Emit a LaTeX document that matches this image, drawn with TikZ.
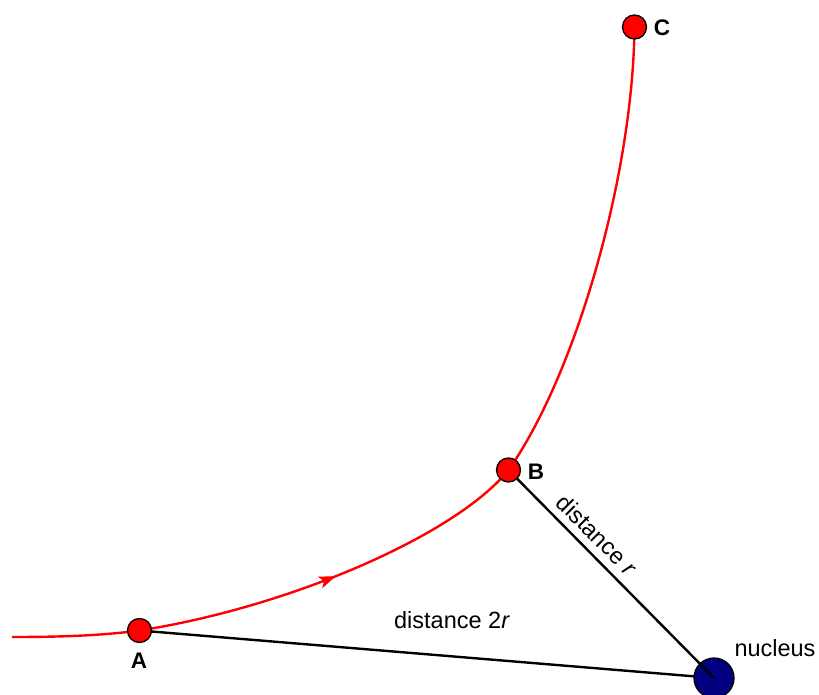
\documentclass[tikz,border=0pt]{standalone}
\usepackage{fontspec}
\setmainfont{Liberation Sans}
\usetikzlibrary{arrows.meta,decorations.markings,backgrounds}
\definecolor{navyblue}{HTML}{000080}
\tikzset{
  pt/.style={circle, draw=black, line width=1.3pt, fill=red, minimum size=24pt, inner sep=0pt},
  nuc/.style={circle, draw=black, line width=1.3pt, fill=navyblue, minimum size=40pt, inner sep=0pt},
  orbit/.style={draw=red, line width=2.4pt},
  link/.style={draw=black, line width=2.4pt},
  lbl/.style={font=\fontsize{23.5}{27}\selectfont, inner sep=0pt},
  bold/.style={font=\fontsize{22.5}{26}\selectfont\bfseries, inner sep=0pt}
}
\begin{document}
\begin{tikzpicture}[x=1pt,y=-1pt]
\useasboundingbox (0,0) rectangle (819,695);
\node[pt] (A) at (139.5,630.5) {};
\node[pt] (B) at (508.5,470) {};
\node[pt] (C) at (634.5,27) {};
\node[nuc] (N) at (714,678) {};
\coordinate (S) at (12,637);
\begin{scope}[on background layer]
  \draw[link] (A.center) -- (N.center);
  \draw[orbit] (S) .. controls (55,637) and (99,636) .. (A.center);
  \draw[orbit, postaction={decorate}, decoration={markings, mark=at position 0.5 with {\arrow{Stealth[length=17pt,width=12pt,inset=4pt]}}}]
    (A.center) .. controls (290,607) and (456,535) .. (B.center);
  \draw[orbit] (B.center) .. controls (576,374) and (633,175) .. (C.center);
\end{scope}
\draw[link] (B) -- (N.center);
\node[bold] (lA) at (139,661) {A};
\node[bold] (lB) at (536,472) {B};
\node[bold] (lC) at (662,28) {C};
\node[lbl] (ln) at (775,648) {nucleus};
\node[lbl] (d2) at (452,620) {distance 2\textit{r}};
\node[lbl, rotate=-45] (d1) at (597,535) {distance \textit{r}};
\end{tikzpicture}
\end{document}
